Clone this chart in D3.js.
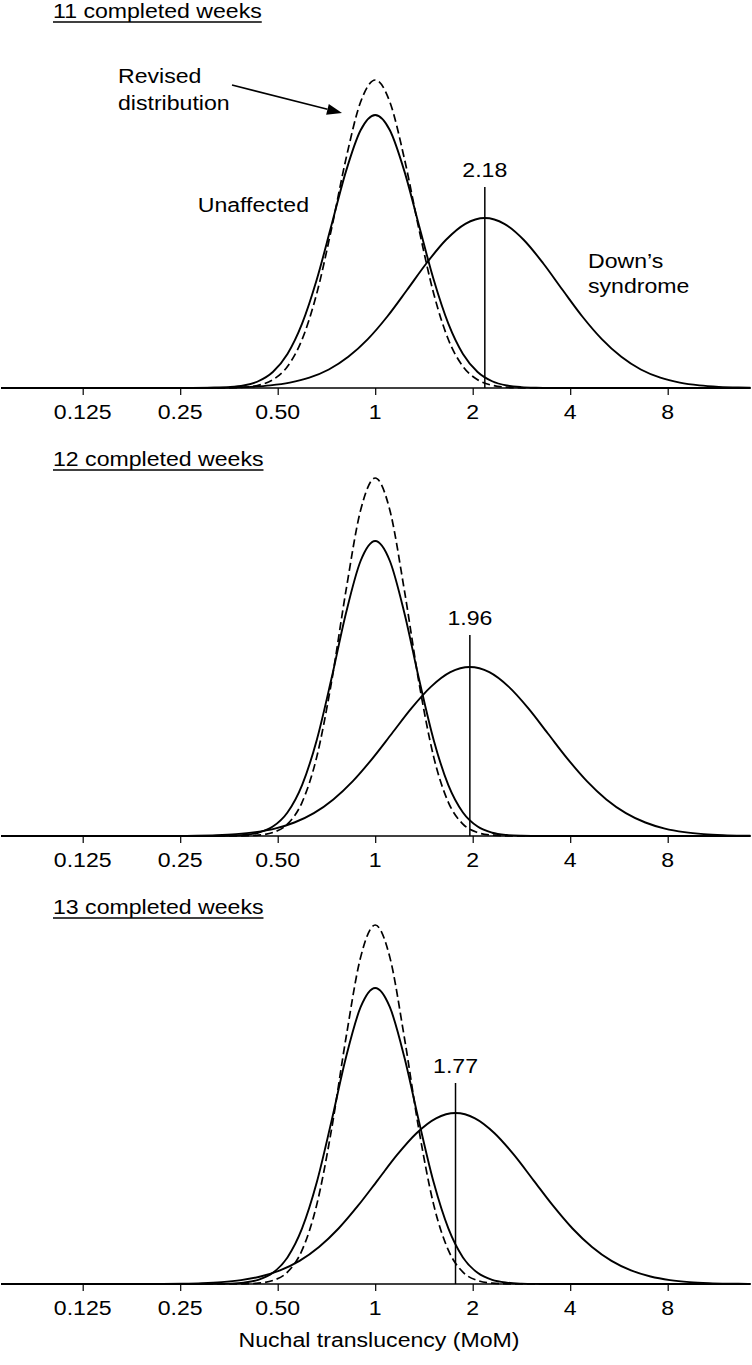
<!DOCTYPE html>
<html><head><meta charset="utf-8">
<script src="https://cdn.jsdelivr.net/npm/d3@7"></script>
<style>body{margin:0;background:#fff}svg{display:block}text{font-family:"Liberation Sans",Arial,Helvetica,sans-serif;font-size:21px;fill:#000}</style>
</head><body><svg id="c" width="752" height="1365"></svg>
<script>
// ---------- data ----------
const tickValues = [0.125, 0.25, 0.5, 1, 2, 4, 8];
const tickLabels = ["0.125", "0.25", "0.50", "1", "2", "4", "8"];
const panelTitles = ["11 completed weeks", "12 completed weeks", "13 completed weeks"];
const cutoffs = [2.18, 1.96, 1.77];
const cutoffLabels = ["2.18", "1.96", "1.77"];
const xTitle = "Nuchal translucency (MoM)";

// MoM grid for the unaffected / revised curves
const uGrid = [0.07, 0.2872, 0.3187, 0.3536, 0.3923, 0.4353, 0.4830, 0.5359, 0.5946, 0.6598, 0.7320, 0.8123, 0.9013, 1, 1.110, 1.231, 1.366, 1.516, 1.682, 1.866, 2.071, 2.297, 2.549, 2.828, 3.138, 3.482, 14.4];

// relative frequency (arbitrary units)
const unaffected11 = [0, 0.0007, 0.0025, 0.0084, 0.0252, 0.0674, 0.160, 0.340, 0.643, 1.082, 1.622, 2.166, 2.577, 2.73, 2.577, 2.166, 1.622, 1.082, 0.643, 0.340, 0.160, 0.0674, 0.0252, 0.0084, 0.0025, 0.0007, 0];
const revised11 = [0, 0.0001, 0.0004, 0.0019, 0.0077, 0.0271, 0.0822, 0.215, 0.485, 0.943, 1.583, 2.291, 2.860, 3.08, 2.860, 2.291, 1.583, 0.943, 0.485, 0.215, 0.0822, 0.0271, 0.0077, 0.0019, 0.0004, 0.0001, 0];
const unaffected12 = [0, 0.0001, 0.0006, 0.0026, 0.0099, 0.0328, 0.0941, 0.235, 0.509, 0.958, 1.567, 2.227, 2.750, 2.95, 2.750, 2.227, 1.567, 0.958, 0.509, 0.235, 0.0941, 0.0328, 0.0099, 0.0026, 0.0006, 0.0001, 0];
const revised12 = [0, 0, 0, 0.0003, 0.0017, 0.0085, 0.0349, 0.119, 0.337, 0.789, 1.529, 2.453, 3.257, 3.58, 3.257, 2.453, 1.529, 0.789, 0.337, 0.119, 0.0349, 0.0085, 0.0017, 0.0003, 0, 0, 0];
const unaffected13 = [0, 0.0002, 0.0009, 0.0037, 0.0131, 0.0408, 0.1115, 0.266, 0.556, 1.014, 1.621, 2.265, 2.768, 2.96, 2.768, 2.265, 1.621, 1.014, 0.556, 0.266, 0.1115, 0.0408, 0.0131, 0.0037, 0.0009, 0.0002, 0];
const revised13 = [0, 0, 0, 0.0003, 0.0017, 0.0085, 0.0350, 0.119, 0.338, 0.791, 1.533, 2.460, 3.266, 3.59, 3.266, 2.460, 1.533, 0.791, 0.338, 0.119, 0.0350, 0.0085, 0.0017, 0.0003, 0, 0, 0];

const downs11X = [0.07, 0.2725, 0.3131, 0.3595, 0.4131, 0.4744, 0.545, 0.6261, 0.7192, 0.826, 0.949, 1.09, 1.252, 1.438, 1.652, 1.898, 2.18, 2.504, 2.877, 3.304, 3.796, 4.36, 5.008, 5.753, 6.608, 7.591, 8.72, 10.02, 11.51, 13.22, 14.4];
const downs11 = [0, 0.0007, 0.0019, 0.0049, 0.0116, 0.0257, 0.0533, 0.103, 0.185, 0.312, 0.489, 0.715, 0.977, 1.245, 1.480, 1.642, 1.70, 1.642, 1.480, 1.245, 0.977, 0.715, 0.489, 0.312, 0.185, 0.103, 0.0533, 0.0257, 0.0116, 0.0049, 0.003];
const downs12X = [0.07, 0.245, 0.2815, 0.3232, 0.3714, 0.4265, 0.49, 0.5629, 0.6466, 0.7426, 0.8532, 0.98, 1.126, 1.293, 1.485, 1.706, 1.96, 2.251, 2.586, 2.971, 3.413, 3.92, 4.503, 5.172, 5.942, 6.825, 7.84, 9.006, 10.34, 11.88, 13.65, 14.4];
const downs12 = [0, 0.0015, 0.0037, 0.0086, 0.0188, 0.0385, 0.0742, 0.135, 0.229, 0.366, 0.549, 0.774, 1.025, 1.276, 1.491, 1.638, 1.69, 1.638, 1.491, 1.276, 1.025, 0.774, 0.549, 0.366, 0.229, 0.135, 0.0742, 0.0385, 0.0188, 0.0086, 0.0037, 0.0026];
const downs13X = [0.07, 0.2213, 0.2542, 0.2919, 0.3354, 0.3852, 0.4425, 0.5083, 0.5839, 0.6707, 0.7705, 0.885, 1.017, 1.168, 1.341, 1.541, 1.77, 2.033, 2.336, 2.683, 3.082, 3.54, 4.066, 4.671, 5.366, 6.164, 7.08, 8.133, 9.342, 10.73, 12.33, 14.16, 14.4];
const downs13 = [0, 0.0015, 0.0037, 0.0087, 0.0190, 0.0390, 0.0751, 0.136, 0.231, 0.370, 0.555, 0.783, 1.037, 1.291, 1.508, 1.657, 1.71, 1.657, 1.508, 1.291, 1.037, 0.783, 0.555, 0.370, 0.231, 0.136, 0.0751, 0.0390, 0.0190, 0.0087, 0.0037, 0.0015, 0.0014];

const panels = [
  {title: panelTitles[0], cut: cutoffs[0], cutLabel: cutoffLabels[0], u: unaffected11, r: revised11, dx: downs11X, d: downs11},
  {title: panelTitles[1], cut: cutoffs[1], cutLabel: cutoffLabels[1], u: unaffected12, r: revised12, dx: downs12X, d: downs12},
  {title: panelTitles[2], cut: cutoffs[2], cutLabel: cutoffLabels[2], u: unaffected13, r: revised13, dx: downs13X, d: downs13}
];

// ---------- drawing ----------
const svg = d3.select("#c");
const SX = 1.1;
const x = d3.scaleLog().base(2).domain([0.125, 8]).range([82.7, 667.7]);
const axisYs = [388, 836, 1284];

function txt(g, px, py, s, anchor) {
  return g.append("text")
    .attr("transform", `translate(${px},${py}) scale(${SX},1)`)
    .attr("text-anchor", anchor || "start")
    .text(s);
}

panels.forEach((p, i) => {
  const ay = axisYs[i];
  const y = d3.scaleLinear().domain([0, 3.6]).range([ay, ay - 360]);
  const g = svg.append("g");
  const line = d3.line().x(d => x(d[0])).y(d => y(d[1])).curve(d3.curveMonotoneX);

  // title with underline
  const tt = txt(g, 53, ay - 370, p.title);
  const tw = tt.node().getComputedTextLength() * SX;
  g.append("line").attr("x1", 53).attr("x2", 53 + tw)
    .attr("y1", ay - 366).attr("y2", ay - 366)
    .attr("stroke", "#000").attr("stroke-width", 1.5);

  // axis
  const axis = d3.axisBottom(x).tickValues(tickValues)
    .tickFormat((d, k) => tickLabels[k]).tickSize(7).tickSizeOuter(0);
  const ag = g.append("g").attr("transform", `translate(0,${ay})`).call(axis);
  ag.select(".domain").remove();
  ag.selectAll(".tick line").attr("stroke", "#000").attr("stroke-width", 1.2);
  ag.selectAll(".tick text").remove();
  tickValues.forEach((v, k) => txt(g, x(v), ay + 31, tickLabels[k], "middle"));
  g.append("line").attr("x1", x(0.07)).attr("x2", x(14.4))
    .attr("y1", ay).attr("y2", ay).attr("stroke", "#000").attr("stroke-width", 1.6);

  // curves
  g.append("path").datum(uGrid.map((v, k) => [v, p.r[k]])).attr("d", line)
    .attr("fill", "none").attr("stroke", "#000").attr("stroke-width", 1.7)
    .attr("stroke-dasharray", "8,4");
  g.append("path").datum(uGrid.map((v, k) => [v, p.u[k]])).attr("d", line)
    .attr("fill", "none").attr("stroke", "#000").attr("stroke-width", 1.9);
  g.append("path").datum(p.dx.map((v, k) => [v, p.d[k]])).attr("d", line)
    .attr("fill", "none").attr("stroke", "#000").attr("stroke-width", 1.9);

  // cutoff line + label
  g.append("line").attr("x1", x(p.cut)).attr("x2", x(p.cut))
    .attr("y1", ay).attr("y2", ay - 201).attr("stroke", "#000").attr("stroke-width", 1.5);
  txt(g, x(p.cut), ay - 211, p.cutLabel, "middle");

  if (i === 0) {
    txt(g, 118, 83, "Revised");
    txt(g, 118, 110, "distribution");
    txt(g, 309, 212, "Unaffected", "end");
    txt(g, 588, 268, "Down\u2019s");
    txt(g, 588, 293, "syndrome");
    // arrow
    const x0 = 232, y0 = 85, x1 = 342, y1 = 113;
    const ang = Math.atan2(y1 - y0, x1 - x0), L = 15, W = 5.5;
    const bx = x1 - L * Math.cos(ang), by = y1 - L * Math.sin(ang);
    g.append("line").attr("x1", x0).attr("y1", y0).attr("x2", bx).attr("y2", by)
      .attr("stroke", "#000").attr("stroke-width", 1.6);
    g.append("polygon").attr("points", [
      [x1, y1],
      [bx + W * Math.sin(ang), by - W * Math.cos(ang)],
      [bx - W * Math.sin(ang), by + W * Math.cos(ang)]
    ].map(q => q.join(",")).join(" ")).attr("fill", "#000");
  }
});

txt(svg, 379, 1347, xTitle, "middle");
</script></body></html>
